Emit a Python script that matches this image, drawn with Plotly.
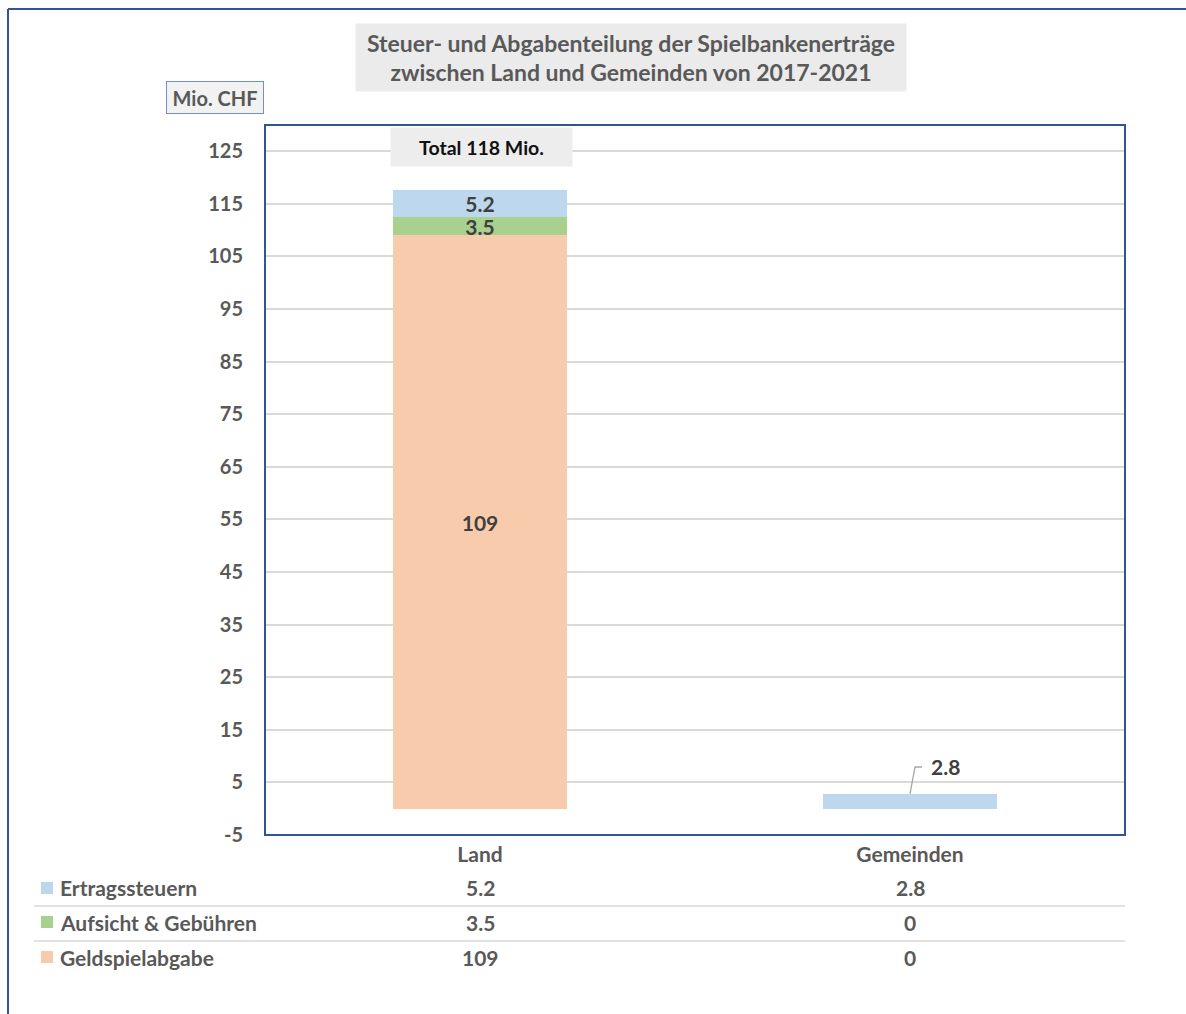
import plotly.graph_objects as go

categories = ["Land", "Gemeinden"]
series_names = ["Geldspielabgabe", "Aufsicht & Gebühren", "Ertragssteuern"]
geldspiel = [109, 0]
aufsicht = [3.5, 0]
ertrag = [5.2, 2.8]
colors = {"Ertragssteuern": "#bdd7ee", "Aufsicht & Gebühren": "#a9d18e", "Geldspielabgabe": "#f8cbad"}
y_ticks = list(range(-5, 126, 10))
total_label = "Total 118 Mio."
title_text = "Steuer- und Abgabenteilung der Spielbankenerträge<br>zwischen Land und Gemeinden von 2017-2021"
unit_label = "Mio. CHF"

W, H = 1186, 1014
L, R, T, B = 265, 1125, 125, 835
FONT = "Lato"
GRAY = "#595959"
DARK = "#404040"


def px_x(x):
    return (x - L) / (R - L)


def px_y(y):
    return (B - y) / (B - T)


series_values = {"Geldspielabgabe": geldspiel, "Aufsicht & Gebühren": aufsicht, "Ertragssteuern": ertrag}

fig = go.Figure()
for name in series_names:
    vals = series_values[name]
    texts = [f"{v:g}" if (c == "Land" and v > 0) else "" for c, v in zip(categories, vals)]
    fig.add_trace(go.Bar(
        x=categories, y=vals, name=name,
        marker=dict(color=colors[name], line=dict(width=0)),
        text=texts, textposition="inside", insidetextanchor="middle",
        constraintext="none", cliponaxis=False,
        textfont=dict(family=FONT, size=21, color=DARK, weight=700),
        hoverinfo="skip",
    ))

annotations = []
shapes = []
# small Gemeinden label with elbow leader line
annotations.append(dict(
    x=categories[1], y=ertrag[1], xref="x", yref="y", text=f"{ertrag[1]:g}",
    showarrow=False, xanchor="left", yanchor="middle", xshift=19, yshift=27,
    font=dict(family=FONT, size=21, color=DARK, weight=700),
))
shapes.append(dict(
    type="path", xref="x", yref="y", xsizemode="pixel", ysizemode="pixel",
    xanchor=1, yanchor=ertrag[1], path="M0,0 L5,27 L12,27",
    line=dict(color="#a6a6a6", width=1.3),
))

# title box
annotations.append(dict(
    x=px_x(631), y=px_y(57.5), xref="paper", yref="paper", xanchor="center", yanchor="middle",
    text=title_text, showarrow=False, bgcolor="#ebebeb", width=550, height=67, borderpad=0,
    font=dict(family=FONT, size=23, color=GRAY, weight=700), align="center",
))
# unit box
annotations.append(dict(
    x=px_x(214.5), y=px_y(97), xref="paper", yref="paper", xanchor="center", yanchor="middle",
    text=unit_label, showarrow=False, bgcolor="#f2f2f2", bordercolor="#6f8fcf", borderwidth=1,
    width=96, height=31, borderpad=0,
    font=dict(family=FONT, size=20, color=GRAY, weight=700),
))
# total box
annotations.append(dict(
    x=px_x(481.5), y=px_y(147), xref="paper", yref="paper", xanchor="center", yanchor="middle",
    text=total_label, showarrow=False, bgcolor="#ededed", width=181, height=38, borderpad=0,
    font=dict(family=FONT, size=19.5, color="#111111", weight=700),
))

# data table below the chart
row_y = [888, 922, 957]
row_names = ["Ertragssteuern", "Aufsicht & Gebühren", "Geldspielabgabe"]
col_x = [480, 910]
for i, name in enumerate(row_names):
    yy = row_y[i]
    annotations.append(dict(
        x=px_x(58), y=px_y(yy), xref="paper", yref="paper", xanchor="left", yanchor="middle",
        text=name, showarrow=False, font=dict(family=FONT, size=21, color=GRAY, weight=700),
    ))
    shapes.append(dict(type="rect", xref="paper", yref="paper",
                       x0=px_x(41), x1=px_x(53), y0=px_y(yy - 6), y1=px_y(yy + 6),
                       fillcolor=colors[name], line=dict(width=0)))
    vals = series_values[name]
    for cx, v in zip(col_x, vals):
        annotations.append(dict(
            x=px_x(cx), y=px_y(yy), xref="paper", yref="paper", xanchor="center", yanchor="middle",
            text=f"{v:g}", showarrow=False, font=dict(family=FONT, size=21, color=GRAY, weight=700),
        ))
for yy in [906, 941]:
    shapes.append(dict(type="line", xref="paper", yref="paper", x0=px_x(34), x1=1.0,
                       y0=px_y(yy), y1=px_y(yy), line=dict(color="#d9d9d9", width=1.5)))

# plot area border
shapes.append(dict(type="rect", xref="paper", yref="paper", x0=0, x1=1, y0=0, y1=1,
                   line=dict(color="#2f5597", width=2), layer="above"))
# outer frame (left & top)
shapes.append(dict(type="line", xref="paper", yref="paper", x0=px_x(8), x1=px_x(8),
                   y0=px_y(9), y1=px_y(1030), line=dict(color="#2f5597", width=2)))
shapes.append(dict(type="line", xref="paper", yref="paper", x0=px_x(8), x1=px_x(1200),
                   y0=px_y(9), y1=px_y(9), line=dict(color="#2f5597", width=2)))

fig.update_layout(
    width=W, height=H,
    margin=dict(l=L, r=W - R, t=T, b=H - B, autoexpand=False),
    paper_bgcolor="white", plot_bgcolor="white",
    barmode="stack", bargap=0.595, showlegend=False,
    annotations=annotations, shapes=shapes,
    font=dict(family=FONT, color=GRAY),
)
fig.update_yaxes(
    range=[-5, 130], tickvals=y_ticks, ticktext=[str(v) for v in y_ticks],
    showgrid=True, gridcolor="#d9d9d9", gridwidth=1.5, zeroline=False,
    showline=False, ticks="", ticklabelstandoff=21,
    tickfont=dict(family=FONT, size=20, color=GRAY, weight=700),
)
fig.update_xaxes(
    showgrid=False, zeroline=False, showline=False, ticks="", ticklabelstandoff=5,
    tickfont=dict(family=FONT, size=21, color=GRAY, weight=700),
)

fig.write_html("out.html")
